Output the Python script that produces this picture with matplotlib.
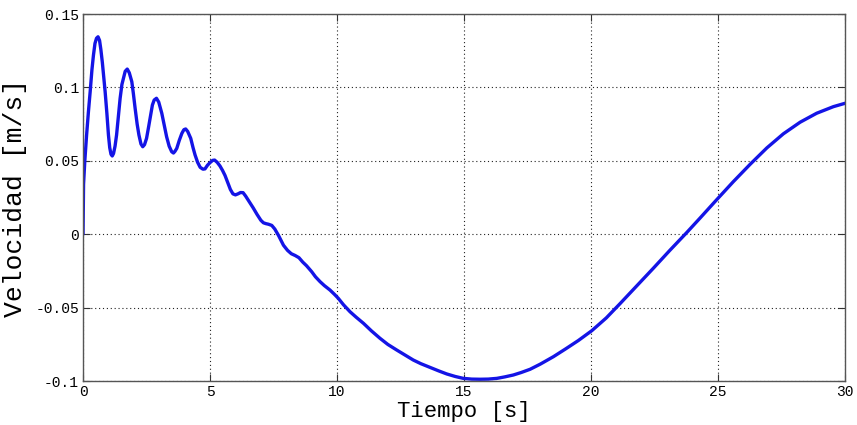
import numpy as np
import matplotlib.pyplot as plt

# velocity trace, time in s and velocity in m/s
tiempo = [0.0, 0.02, 0.07, 0.14, 0.21, 0.28, 0.35, 0.41, 0.47, 0.53,
          0.59, 0.65, 0.70, 0.76, 0.82, 0.87, 0.94, 1.0, 1.05, 1.10,
          1.15, 1.20, 1.26, 1.32, 1.39, 1.46, 1.53, 1.59, 1.66, 1.74,
          1.82, 1.92, 1.98, 2.05, 2.13, 2.2, 2.28, 2.35, 2.42, 2.5,
          2.58, 2.66, 2.73, 2.8, 2.89, 2.98, 3.1, 3.2, 3.29, 3.39,
          3.49, 3.56, 3.62, 3.69, 3.79, 3.89, 3.97, 4.04, 4.12, 4.24,
          4.33, 4.41, 4.51, 4.61, 4.72, 4.8, 4.9, 5.0, 5.1, 5.18,
          5.28, 5.39, 5.49, 5.59, 5.7, 5.8, 5.9, 6.0, 6.1, 6.2,
          6.3, 6.4, 6.55, 6.7, 6.85, 7.0, 7.1, 7.2, 7.3, 7.43,
          7.55, 7.7, 7.89, 8.05, 8.2, 8.35, 8.5, 8.65, 8.8, 9.0,
          9.15, 9.33, 9.5, 9.72, 9.9, 10.05, 10.25, 10.51, 10.75, 11.04,
          11.35, 11.69, 12.0, 12.35, 12.7, 13.0, 13.3, 13.66, 14.0, 14.32,
          14.65, 14.97, 15.3, 15.63, 15.95, 16.29, 16.6, 16.94, 17.25, 17.6,
          18.0, 18.52, 19.0, 19.5, 20.03, 20.6, 21.14, 21.8, 22.45, 23.1,
          23.77, 24.29, 24.94, 25.6, 26.26, 26.92, 27.57, 28.23, 28.88, 29.54,
          30.0]
velocidad = [0.0, 0.034, 0.05, 0.0676, 0.083, 0.097, 0.112, 0.122, 0.130, 0.1335,
             0.1345, 0.132, 0.126, 0.117, 0.106, 0.097, 0.082, 0.0676, 0.059, 0.0545,
             0.0533, 0.055, 0.060, 0.0676, 0.080, 0.0926, 0.102, 0.1062, 0.111, 0.1125,
             0.110, 0.1039, 0.096, 0.0858, 0.075, 0.0676, 0.0615, 0.0596, 0.061, 0.0653,
             0.073, 0.0812, 0.088, 0.0914, 0.0926, 0.090, 0.0824, 0.074, 0.0664, 0.060,
             0.0562, 0.0553, 0.0565, 0.0585, 0.064, 0.0687, 0.0712, 0.0717, 0.070, 0.0653,
             0.059, 0.054, 0.049, 0.0456, 0.0443, 0.0445, 0.047, 0.0488, 0.0503, 0.0505,
             0.049, 0.0465, 0.0435, 0.0400, 0.035, 0.0305, 0.0275, 0.0268, 0.0275, 0.0284,
             0.0283, 0.026, 0.022, 0.0179, 0.0135, 0.0095, 0.0078, 0.0072, 0.0068, 0.0060,
             0.0035, -0.001, -0.0075, -0.011, -0.0133, -0.0145, -0.016, -0.019, -0.0215, -0.0255,
             -0.029, -0.0323, -0.035, -0.038, -0.041, -0.0437, -0.048, -0.0528, -0.0565, -0.0607,
             -0.0658, -0.0709, -0.0751, -0.0789, -0.0826, -0.0857, -0.0882, -0.0907, -0.0931, -0.0952,
             -0.0969, -0.0982, -0.0987, -0.0988, -0.0987, -0.0982, -0.0972, -0.0959, -0.0942, -0.092,
             -0.0885, -0.0834, -0.0781, -0.0724, -0.0657, -0.0570, -0.0473, -0.0352, -0.0232, -0.0110,
             0.0012, 0.0110, 0.0234, 0.0358, 0.0476, 0.0588, 0.0684, 0.0763, 0.0824, 0.0869,
             0.0892]

xticks = [0, 5, 10, 15, 20, 25, 30]
yticks = [-0.1, -0.05, 0, 0.05, 0.1, 0.15]
ytick_labels = ['-0.1', '-0.05', '0', '0.05', '0.1', '0.15']

mono = 'Liberation Mono'

fig = plt.figure(figsize=(8.57, 4.25), dpi=100)
ax = fig.add_axes([0.0969, 0.1035, 0.8892, 0.8635])

ax.plot(tiempo, velocidad, color='#1414e6', lw=2.4,
        solid_joinstyle='round', solid_capstyle='round')

ax.set_xlim(0, 30)
ax.set_ylim(-0.1, 0.15)
ax.set_xticks(xticks)
ax.set_xticklabels([str(t) for t in xticks], family=mono, fontsize=10.5)
ax.set_yticks(yticks)
ax.set_yticklabels(ytick_labels, family=mono, fontsize=10.5)
ax.tick_params(direction='in', top=True, right=True, length=5, width=0.8,
               color='#333333', pad=3)

ax.grid(True, linestyle=(0, (1, 2.5)), color='#222222', lw=0.8)
for s in ax.spines.values():
    s.set_color('#555555')
    s.set_linewidth(1.0)

ax.set_xlabel('Tiempo [s]', family=mono, fontsize=16, labelpad=1)
ax.set_ylabel('Velocidad [m/s]', family=mono, fontsize=19, labelpad=6)

fig.savefig('out.png', dpi=100)
